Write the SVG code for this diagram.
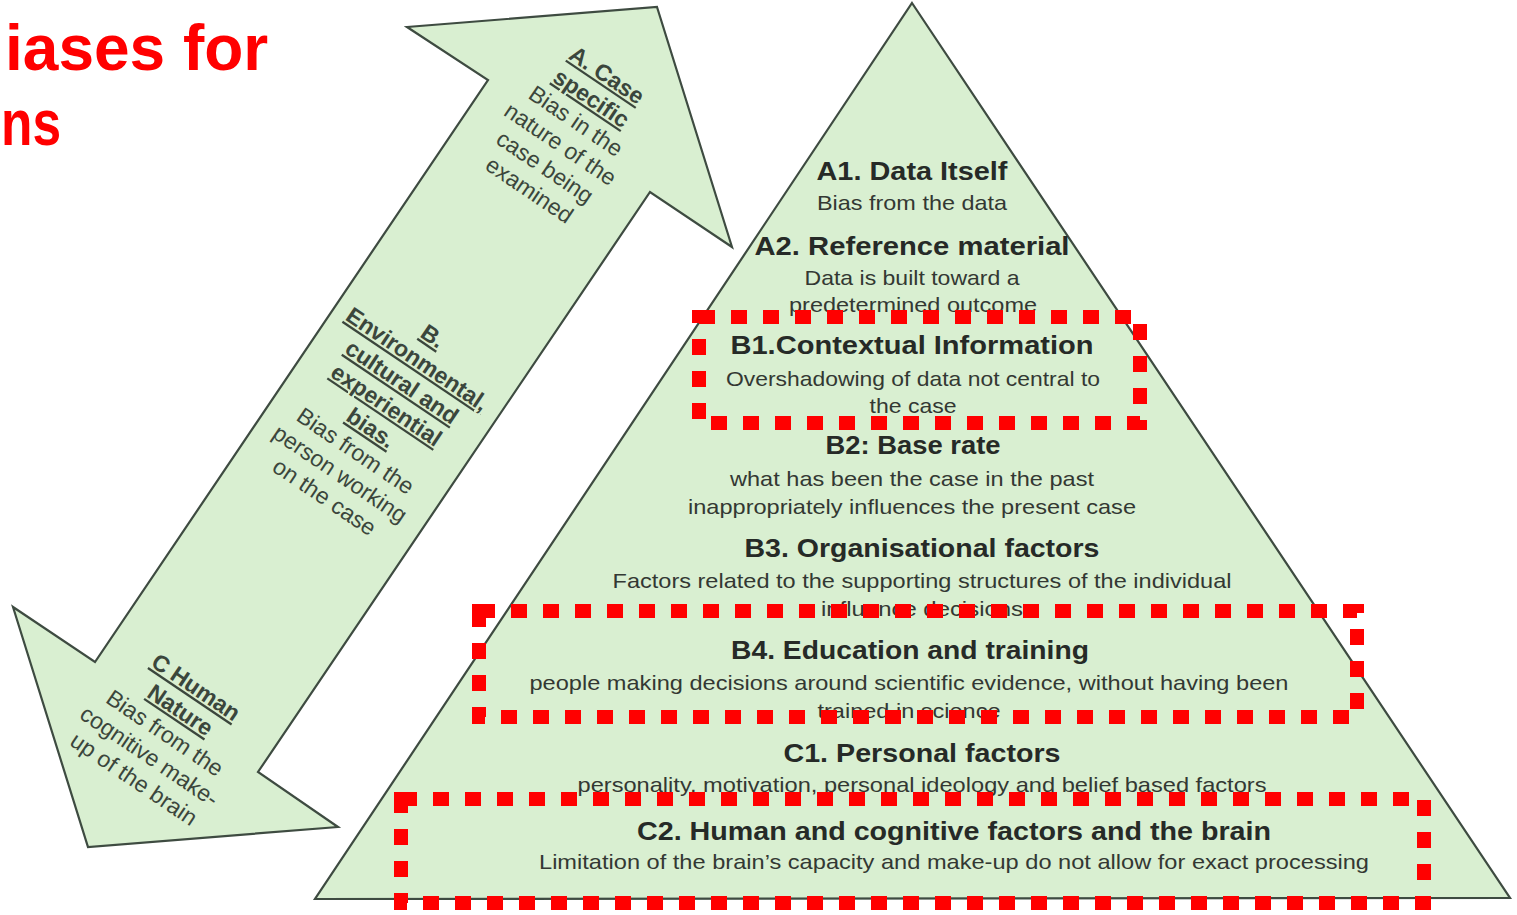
<svg xmlns="http://www.w3.org/2000/svg" width="1517" height="915" viewBox="0 0 1517 915">
<style>
.shape{fill:#d9efd1;stroke:#3e4b41;stroke-width:2.2;stroke-linejoin:miter}
.title{font-family:"Liberation Sans",Arial,sans-serif;font-weight:bold;fill:#ff0000;font-size:64px}
.at{font-family:"Liberation Sans",Arial,sans-serif;font-size:23px;fill:#3b463c;text-anchor:middle}
.atb{font-weight:bold;text-decoration:underline}
.h{font-family:"Liberation Sans",Arial,sans-serif;font-weight:bold;font-size:26px;fill:#262a27;text-anchor:middle}
.b{font-family:"Liberation Sans",Arial,sans-serif;font-size:21px;fill:#333833;text-anchor:middle}
.dot{fill:none;stroke:#ff0000;stroke-width:14;stroke-dasharray:16 16}
</style>
<rect width="1517" height="915" fill="#ffffff"/>
<g id="title">
<text class="title" x="5" y="70">iases for</text>
<text class="title" x="1" y="145" textLength="60" lengthAdjust="spacingAndGlyphs">ns</text>
</g>
<g id="arrow">
<polygon class="shape" points="657,7 732,247 650,192 258,772 338,827 88,847 13,607 95,662 488,80 407,27"/>
<g transform="translate(607,75) rotate(34)">
<text class="at atb" x="0" y="8">A. Case</text>
<text class="at atb" x="0" y="35.7">specific</text>
<text class="at" x="0" y="63.4">Bias in the</text>
<text class="at" x="0" y="91.1">nature of the</text>
<text class="at" x="0" y="118.8">case being</text>
<text class="at" x="0" y="146.5">examined</text>
</g>
<g transform="translate(433,336) rotate(34)">
<text class="at atb" x="0" y="8">B.</text>
<text class="at atb" x="0" y="35.7">Environmental,</text>
<text class="at atb" x="0" y="63.4">cultural and</text>
<text class="at atb" x="0" y="91.1">experiential</text>
<text class="at atb" x="0" y="118.8">bias.</text>
<text class="at" x="0" y="146.5">Bias from the</text>
<text class="at" x="0" y="174.2">person working</text>
<text class="at" x="0" y="201.9">on the case</text>
</g>
<g transform="translate(196,687) rotate(34)">
<text class="at atb" x="0" y="8">C Human</text>
<text class="at atb" x="0" y="35.7">Nature</text>
<text class="at" x="0" y="63.4">Bias from the</text>
<text class="at" x="0" y="91.1">cognitive make-</text>
<text class="at" x="0" y="118.8">up of the brain</text>
</g>
</g>
<g id="pyramid">
<polygon class="shape" points="912,3 1510,898 315,899"/>
</g>
<g id="A1">
<text class="h" x="912" y="180" textLength="191" lengthAdjust="spacingAndGlyphs">A1. Data Itself</text>
<text class="b" x="912" y="210" textLength="190" lengthAdjust="spacingAndGlyphs">Bias from the data</text>
</g>
<g id="A2">
<text class="h" x="912" y="255" textLength="315" lengthAdjust="spacingAndGlyphs">A2. Reference material</text>
<text class="b" x="912" y="285" textLength="215" lengthAdjust="spacingAndGlyphs">Data is built toward a</text>
<text class="b" x="913" y="312" textLength="248" lengthAdjust="spacingAndGlyphs">predetermined outcome</text>
</g>
<g id="B1">
<text class="h" x="912" y="354" textLength="363" lengthAdjust="spacingAndGlyphs">B1.Contextual Information</text>
<text class="b" x="913" y="386" textLength="374" lengthAdjust="spacingAndGlyphs">Overshadowing of data not central to</text>
<text class="b" x="913" y="413" textLength="87" lengthAdjust="spacingAndGlyphs">the case</text>
</g>
<g id="B2">
<text class="h" x="913" y="454" textLength="175" lengthAdjust="spacingAndGlyphs">B2: Base rate</text>
<text class="b" x="912" y="486" textLength="364" lengthAdjust="spacingAndGlyphs">what has been the case in the past</text>
<text class="b" x="912" y="514" textLength="448" lengthAdjust="spacingAndGlyphs">inappropriately influences the present case</text>
</g>
<g id="B3">
<text class="h" x="922" y="557" textLength="355" lengthAdjust="spacingAndGlyphs">B3. Organisational factors</text>
<text class="b" x="922" y="588" textLength="619" lengthAdjust="spacingAndGlyphs">Factors related to the supporting structures of the individual</text>
<text class="b" x="922" y="616" textLength="202" lengthAdjust="spacingAndGlyphs">influence decisions</text>
</g>
<g id="B4">
<text class="h" x="910" y="659" textLength="358" lengthAdjust="spacingAndGlyphs">B4. Education and training</text>
<text class="b" x="909" y="690" textLength="759" lengthAdjust="spacingAndGlyphs">people making decisions around scientific evidence, without having been</text>
<text class="b" x="909" y="718" textLength="183" lengthAdjust="spacingAndGlyphs">trained in science</text>
</g>
<g id="C1">
<text class="h" x="922" y="762" textLength="277" lengthAdjust="spacingAndGlyphs">C1. Personal factors</text>
<text class="b" x="922" y="792" textLength="689" lengthAdjust="spacingAndGlyphs">personality, motivation, personal ideology and belief based factors</text>
</g>
<g id="C2">
<text class="h" x="954" y="840" textLength="634" lengthAdjust="spacingAndGlyphs">C2. Human and cognitive factors and the brain</text>
<text class="b" x="954" y="869" textLength="830" lengthAdjust="spacingAndGlyphs">Limitation of the brain’s capacity and make-up do not allow for exact processing</text>
</g>
<g id="highlights">
<rect class="dot" x="699" y="317" width="441" height="106"/>
<rect class="dot" x="479" y="611" width="878" height="106"/>
<rect class="dot" x="401" y="799" width="1023" height="104"/>
</g>
</svg>
